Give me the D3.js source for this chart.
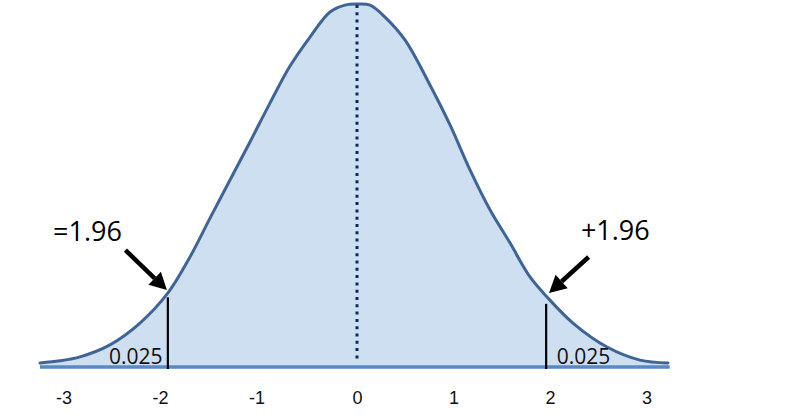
<!DOCTYPE html>
<html>
<head>
<meta charset="utf-8">
<script src="https://cdn.jsdelivr.net/npm/d3@7"></script>
<style>
  html, body { margin: 0; padding: 0; background: #fff; }
  svg { display: block; }
</style>
</head>
<body>
<svg id="chart" width="801" height="416"></svg>
<script>
// ---- Data ----
// Curve samples: z (standard deviations) and height relative to the peak
const curveZ = [-3.285, -3.078, -2.870, -2.560, -2.249, -1.959, -1.731, -1.523, -1.316, -1.109, -0.902, -0.694, -0.487, -0.280, -0.124, 0, 0.135, 0.290, 0.497, 0.756, 0.964, 1.171, 1.378, 1.585, 1.793, 1.969, 2.238, 2.591, 2.933, 3.223];
const curveH = [0.011, 0.017, 0.028, 0.061, 0.121, 0.204, 0.303, 0.410, 0.515, 0.620, 0.727, 0.829, 0.909, 0.978, 0.997, 1.0, 0.997, 0.964, 0.901, 0.777, 0.667, 0.543, 0.433, 0.342, 0.248, 0.193, 0.121, 0.055, 0.019, 0.011];

const tickValues = [-3, -2, -1, 0, 1, 2, 3];
const tickLabels = ["-3", "-2", "-1", "0", "1", "2", "3"];

const criticalZ = [-1.96, 1.96];
const criticalTop = [0.192, 0.174];      // top of black cut-off lines
const tailLabels = ["0.025", "0.025"];
const criticalLabels = ["=1.96", "+1.96"];

const axisExtent = [-3.285, 3.24];

// ---- Scales ----
const x = d3.scaleLinear().domain([-3, 3]).range([67.5, 646.5]);
const y = d3.scaleLinear().domain([0, 1]).range([367, 4]);

const svg = d3.select("#chart");
const pts = curveZ.map((z, i) => [z, curveH[i]]);
const crv = d3.curveCatmullRom.alpha(0.5);

// Filled area
svg.append("path")
  .datum(pts)
  .attr("fill", "#cddff0")
  .attr("d", d3.area().curve(crv)
    .x(d => x(d[0])).y0(y(0)).y1(d => y(d[1])));

// Axis baseline
svg.append("line")
  .attr("x1", x(axisExtent[0])).attr("x2", x(axisExtent[1]))
  .attr("y1", y(0)).attr("y2", y(0))
  .attr("stroke", "#5a89c2").attr("stroke-width", 3.5);

// Outline curve
svg.append("path")
  .datum(pts)
  .attr("fill", "none")
  .attr("stroke", "#3f6597")
  .attr("stroke-width", 3)
  .attr("stroke-linejoin", "round")
  .attr("stroke-linecap", "round")
  .attr("d", d3.line().curve(crv)
    .x(d => x(d[0])).y(d => y(d[1])));

// Dotted mean line
svg.append("line")
  .attr("x1", x(0)).attr("x2", x(0))
  .attr("y1", y(1) + 1).attr("y2", y(0) - 6)
  .attr("stroke", "#0b2a63").attr("stroke-width", 3)
  .attr("stroke-dasharray", "3,4.3");

// Critical value cut-off lines
svg.selectAll("line.cut")
  .data(criticalZ)
  .join("line")
  .attr("class", "cut")
  .attr("x1", d => x(d)).attr("x2", d => x(d))
  .attr("y1", (d, i) => y(criticalTop[i])).attr("y2", y(0) + 2)
  .attr("stroke", "#000").attr("stroke-width", 2.2);

// Tail probability labels
const tailPos = [[-2.57, 0.008], [2.07, 0.008]];
svg.selectAll("text.tail")
  .data(tailLabels)
  .join("text")
  .attr("class", "tail")
  .attr("x", (d, i) => x(tailPos[i][0]))
  .attr("y", (d, i) => y(tailPos[i][1]))
  .attr("font-family", "'Open Sans', sans-serif")
  .attr("font-size", 21)
  .attr("fill", "#111")
  .text(d => d);

// Arrows
const arrowFrom = [[-2.40, 0.322], [2.40, 0.303]];
const arrowTo = [[-1.97, 0.212], [1.99, 0.204]];
arrowFrom.forEach((f, i) => {
  const x1 = x(f[0]), y1 = y(f[1]), x2 = x(arrowTo[i][0]), y2 = y(arrowTo[i][1]);
  const ang = Math.atan2(y2 - y1, x2 - x1);
  const L = 17, W = 9;
  const bx = x2 - L * Math.cos(ang), by = y2 - L * Math.sin(ang);
  svg.append("line")
    .attr("x1", x1).attr("y1", y1).attr("x2", bx).attr("y2", by)
    .attr("stroke", "#000").attr("stroke-width", 4.5);
  const px = -Math.sin(ang), py = Math.cos(ang);
  svg.append("path")
    .attr("d", `M${x2},${y2}L${bx + W * px},${by + W * py}L${bx - W * px},${by - W * py}Z`)
    .attr("fill", "#000");
});

// Critical value labels
const labelPos = [[-3.15, 0.347], [2.32, 0.350]];
svg.selectAll("text.crit")
  .data(criticalLabels)
  .join("text")
  .attr("class", "crit")
  .attr("x", (d, i) => x(labelPos[i][0]))
  .attr("y", (d, i) => y(labelPos[i][1]))
  .attr("font-family", "'Open Sans', sans-serif")
  .attr("font-size", 27)
  .attr("fill", "#000")
  .text(d => d);

// Tick labels
const axis = d3.axisBottom(x)
  .tickValues(tickValues)
  .tickSize(0)
  .tickPadding(0)
  .tickFormat((d, i) => tickLabels[i]);
const g = svg.append("g").attr("transform", `translate(0,${y(0)})`).call(axis);
g.select(".domain").remove();
g.selectAll("text")
  .attr("y", 37)
  .attr("dy", 0)
  .attr("dx", d => d < 0 ? -4 : 0)
  .attr("font-family", "'Liberation Sans', Arial, sans-serif")
  .attr("font-size", 18)
  .attr("fill", "#111");
</script>
</body>
</html>
